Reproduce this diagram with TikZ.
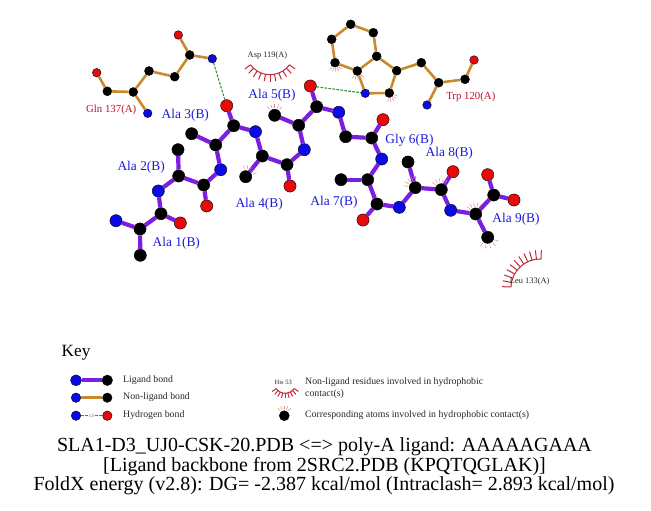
\documentclass[tikz,border=0pt]{standalone}
\usepackage{fontspec}
\setmainfont{Liberation Serif}
\definecolor{lig}{HTML}{7A1FE0}
\definecolor{nonlig}{HTML}{C88A2C}
\definecolor{hb}{HTML}{2F8F3F}
\definecolor{atN}{HTML}{0A0AE6}
\definecolor{atO}{HTML}{E60A0A}
\definecolor{lab}{HTML}{1A1AD8}
\definecolor{rlab}{HTML}{C01030}
\definecolor{res}{HTML}{C02838}
\definecolor{hair}{HTML}{D88878}
\tikzset{
  atom/.style={circle,inner sep=0pt,draw=black,line width=0.4pt},
  lc/.style={atom,fill=black,minimum size=12.2pt},
  ln/.style={atom,fill=atN,minimum size=12.2pt},
  lo/.style={atom,fill=atO,minimum size=12.2pt},
  nc/.style={atom,fill=black,minimum size=9pt},
  nn/.style={atom,fill=atN,minimum size=8.6pt},
  no/.style={atom,fill=atO,minimum size=8.6pt},
  ligbond/.style={draw=lig,line width=4.2pt},
  nonbond/.style={draw=nonlig,line width=2.6pt},
  hbond/.style={draw=hb,line width=1.1pt,dash pattern=on 2.6pt off 1.4pt},
  chain/.style={text=lab,font=\fontsize{13.4}{15}\selectfont,inner sep=0pt},
  rchain/.style={text=rlab,font=\fontsize{10.8}{12}\selectfont,inner sep=0pt},
  bchain/.style={text=black!85,font=\fontsize{8.4}{10}\selectfont,inner sep=0pt},
  keytext/.style={text=black!85,font=\fontsize{9.8}{12}\selectfont,inner sep=0pt,anchor=west},
  titletext/.style={text=black,font=\fontsize{17.2}{19}\selectfont,inner sep=0pt},
  captext/.style={text=black,font=\fontsize{20}{22}\selectfont,inner sep=0pt},
  spoke/.style={draw=res,line width=1pt},
  hairline/.style={draw=hair,line width=0.5pt}
}
\newcommand{\hairsat}[5]{% node, r1, r2, start, end
  \foreach \hh in {0,1,...,4}{
    \pgfmathsetmacro{\aa}{#4+(#5-#4)*\hh/4}
    \draw[hairline] ([shift={(\aa:#2pt)}]#1.center) -- ([shift={(\aa:#3pt)}]#1.center);
  }}
\newcommand{\lashes}[6]{% coord, r1, r2, start, end, count-1
  \draw[spoke] ([shift={(#4:#2pt)}]#1) arc[start angle=#4,end angle=#5,radius=#2pt];
  \foreach \hh in {0,...,#6}{
    \pgfmathsetmacro{\aa}{#4+(#5-#4)*\hh/#6}
    \draw[spoke] ([shift={(\aa:#2pt)}]#1) -- ([shift={(\aa:#3pt)}]#1);
  }}
\begin{document}
\begin{tikzpicture}[x=1pt,y=-1pt]
\useasboundingbox (0,0) rectangle (651,511);
% ligand atoms
\node[ln] (n1) at (116,220.7) {};
\node[lc] (ca1) at (140,229) {};
\node[lc] (cb1) at (140.3,255.3) {};
\node[lc] (c1) at (161,213.7) {};
\node[lo] (o1) at (180.3,223) {};
\node[ln] (n2) at (158.3,191) {};
\node[lc] (ca2) at (178.7,176) {};
\node[lc] (cb2) at (178,149.7) {};
\node[lc] (c2) at (203.7,185) {};
\node[lo] (o2) at (206.7,206) {};
\node[ln] (n3) at (220.7,169.7) {};
\node[lc] (ca3) at (215.7,145) {};
\node[lc] (cb3) at (191.7,133.7) {};
\node[lc] (c3) at (233.7,125.7) {};
\node[lo] (o3) at (226.7,105.7) {};
\node[ln] (n4) at (255.5,131.7) {};
\node[lc] (ca4) at (262.3,156) {};
\node[lc] (cb4) at (245.7,176.7) {};
\node[lc] (c4) at (287,164.7) {};
\node[lo] (o4) at (290,186) {};
\node[ln] (n5) at (304.3,149.7) {};
\node[lc] (ca5) at (298.7,125.3) {};
\node[lc] (cb5) at (274.7,115.3) {};
\node[lc] (c5) at (316.7,106.7) {};
\node[lo] (o5) at (310.3,86) {};
\node[ln] (n6) at (338.7,112.3) {};
\node[lc] (ca6) at (345.7,136.7) {};
\node[lc] (c6) at (371.7,138) {};
\node[lo] (o6) at (383,119.7) {};
\node[ln] (n7) at (381.7,159) {};
\node[lc] (ca7) at (367.7,179.7) {};
\node[lc] (cb7) at (341,179.7) {};
\node[lc] (c7) at (377,204) {};
\node[lo] (o7) at (363,220) {};
\node[ln] (n8) at (399.3,207.3) {};
\node[lc] (ca8) at (415.3,187.7) {};
\node[lc] (cb8) at (408,162) {};
\node[lc] (c8) at (441.3,189.7) {};
\node[lo] (o8) at (453,171.7) {};
\node[ln] (n9) at (450.7,210.3) {};
\node[lc] (ca9) at (475.7,214) {};
\node[lc] (cb9) at (487.7,237.3) {};
\node[lc] (c9) at (493.7,195) {};
\node[lo] (o9) at (487.7,174.7) {};
\node[lo] (oxt) at (514,200) {};
\foreach \u/\v in {n1/ca1,ca1/cb1,ca1/c1,c1/o1,c1/n2,n2/ca2,ca2/cb2,ca2/c2,c2/o2,c2/n3,n3/ca3,ca3/cb3,ca3/c3,c3/o3,c3/n4,n4/ca4,ca4/cb4,ca4/c4,c4/o4,c4/n5,n5/ca5,ca5/cb5,ca5/c5,c5/o5,c5/n6,n6/ca6,ca6/c6,c6/o6,c6/n7,n7/ca7,ca7/cb7,ca7/c7,c7/o7,c7/n8,n8/ca8,ca8/cb8,ca8/c8,c8/o8,c8/n9,n9/ca9,ca9/cb9,ca9/c9,c9/o9,c9/oxt}
  \draw[ligbond] (\u) -- (\v);
% Gln 137
\node[no] (go1) at (96.7,72.7) {};
\node[nc] (gc1) at (107.3,91.3) {};
\node[nc] (gca) at (133.3,92) {};
\node[nn] (gn) at (147.7,113.3) {};
\node[nc] (gcb) at (149,71) {};
\node[nc] (gcg) at (174.7,76.7) {};
\node[nc] (gcd) at (189.7,55) {};
\node[no] (goe) at (178.3,35) {};
\node[nn] (gne) at (212.3,58.7) {};
\foreach \u/\v in {go1/gc1,gc1/gca,gca/gn,gca/gcb,gcb/gcg,gcg/gcd,gcd/goe,gcd/gne}
  \draw[nonbond] (\u) -- (\v);
% Trp 120
\node[nc] (t1) at (350.7,24.3) {};
\node[nc] (t2) at (373.3,32.7) {};
\node[nc] (t3) at (331.7,39.3) {};
\node[nc] (t4) at (376.7,56.3) {};
\node[nc] (t5) at (335,62.7) {};
\node[nc] (t6) at (357.3,71) {};
\node[nc] (t7) at (396.7,70.7) {};
\node[nn] (tn) at (365.3,93.3) {};
\node[nc] (t8) at (389.3,93) {};
\node[nc] (t9) at (421.3,62.7) {};
\node[nc] (t10) at (438.7,82.7) {};
\node[nc] (t11) at (465,79.3) {};
\node[no] (to) at (474,60) {};
\node[nn] (tn2) at (427,105) {};
\foreach \u/\v in {t1/t2,t1/t3,t2/t4,t3/t5,t4/t6,t5/t6,t4/t7,t6/tn,tn/t8,t8/t7,t7/t9,t9/t10,t10/t11,t11/to,t10/tn2}
  \draw[nonbond] (\u) -- (\v);
% hydrogen bonds
\draw[hbond] (gne) -- (o3);
\draw[hbond] (o5) -- (tn);
% contact hairs
\hairsat{cb5}{7.5}{11.5}{50}{130}
\hairsat{cb4}{7.5}{11.5}{20}{100}
\hairsat{t5}{5.5}{9}{235}{315}
\hairsat{t6}{5.5}{9}{235}{315}
\hairsat{t8}{5.5}{9}{260}{340}
\hairsat{ca8}{7.5}{11.5}{90}{170}
\hairsat{c8}{7.5}{11.5}{60}{140}
\hairsat{ca9}{7.5}{11.5}{60}{140}
\hairsat{cb9}{7.5}{11.5}{230}{340}
% residues with hydrophobic contact
\coordinate (aspc) at (270,50.7);
\lashes{aspc}{24}{31}{216}{324}{10}
\coordinate (leuc) at (540,288);
\lashes{leuc}{29}{38}{88}{178}{10}
% labels
\node[rchain] (lgln) at (111.2,109.8) {Gln 137(A)};
\node[rchain] (ltrp) at (470.8,96.5) {Trp 120(A)};
\node[bchain] (lasp) at (267.5,55) {Asp 119(A)};
\node[bchain] (lleu) at (529.7,281) {Leu 133(A)};
\node[chain] (la1) at (176.3,242.8) {Ala 1(B)};
\node[chain] (la2) at (141.2,167) {Ala 2(B)};
\node[chain] (la3) at (185.3,115.5) {Ala 3(B)};
\node[chain] (la4) at (259.2,204.5) {Ala 4(B)};
\node[chain] (la5) at (272,95.5) {Ala 5(B)};
\node[chain] (lg6) at (409.5,140.5) {Gly 6(B)};
\node[chain] (la7) at (334,202) {Ala 7(B)};
\node[chain] (la8) at (449.3,153) {Ala 8(B)};
\node[chain] (la9) at (516,219.5) {Ala 9(B)};
% key
\node[titletext,anchor=west] (key) at (61.5,353) {Key};
\node[atom,fill=atN,minimum size=11pt] (k1a) at (76,380.3) {};
\node[atom,fill=black,minimum size=10.5pt] (k1b) at (107.3,380.3) {};
\draw[ligbond] (k1a) -- (k1b);
\node[atom,fill=atN,minimum size=9.5pt] (k2a) at (76,397.7) {};
\node[atom,fill=black,minimum size=9.5pt] (k2b) at (107.3,397.7) {};
\draw[nonbond] (k2a) -- (k2b);
\node[atom,fill=atN,minimum size=9.5pt] (k3a) at (76,415.7) {};
\node[atom,fill=atO,minimum size=9.5pt] (k3b) at (107.3,415.7) {};
\node[text=hb,font=\fontsize{4.5}{5}\selectfont,inner sep=0.6pt] (k3l) at (91.5,415.7) {3.0};
\draw[hbond] (k3a) -- (k3l);
\draw[hbond] (k3l) -- (k3b);
\node[keytext] (kt1) at (123,380) {Ligand bond};
\node[keytext] (kt2) at (123,397.5) {Non-ligand bond};
\node[keytext] (kt3) at (123,415.5) {Hydrogen bond};
\node[text=black!85,font=\fontsize{6.5}{8}\selectfont,inner sep=0pt] (khis) at (283.3,382.7) {His 53};
\coordinate (hisc) at (285.3,382.3);
\lashes{hisc}{11}{16}{215}{325}{8}
\node[keytext] (kt4) at (305,382) {Non-ligand residues involved in hydrophobic};
\node[keytext] (kt5) at (305,394) {contact(s)};
\node[atom,fill=black,minimum size=10pt] (kat) at (284.3,415.7) {};
\hairsat{kat}{6.5}{10}{50}{130}
\node[keytext] (kt6) at (305,415.5) {Corresponding atoms involved in hydrophobic contact(s)};
% title
\node[captext] (t1l) at (324.5,447) {SLA1-D3\_UJ0-CSK-20.PDB <=> poly-A ligand: AAAAAGAAA};
\node[captext] (t2l) at (324.5,467) {[Ligand backbone from 2SRC2.PDB (KPQTQGLAK)]};
\node[captext] (t3l) at (324,486) {FoldX energy (v2.8): DG= -2.387 kcal/mol (Intraclash= 2.893 kcal/mol)};
\end{tikzpicture}
\end{document}
